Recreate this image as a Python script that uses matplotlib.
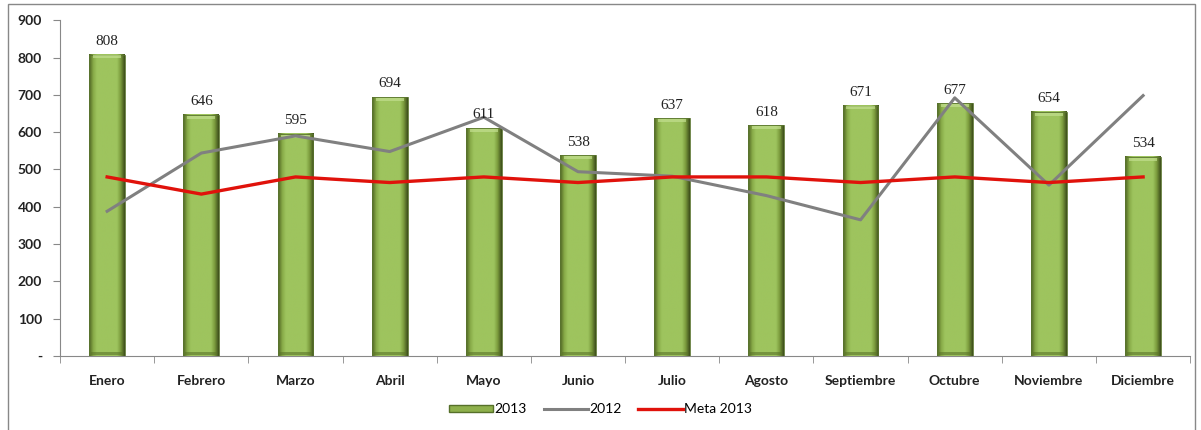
import numpy as np
import matplotlib
matplotlib.use("Agg")
import matplotlib.pyplot as plt
from matplotlib.colors import LinearSegmentedColormap
from matplotlib.patches import Rectangle
from matplotlib.lines import Line2D

months = ["Enero", "Febrero", "Marzo", "Abril", "Mayo", "Junio", "Julio",
          "Agosto", "Septiembre", "Octubre", "Noviembre", "Diciembre"]
values_2013 = [808, 646, 595, 694, 611, 538, 637, 618, 671, 677, 654, 534]
values_2012 = [388, 544, 590, 548, 640, 494, 482, 430, 365, 692, 458, 698]
meta_2013 = [480, 434, 480, 465, 480, 465, 480, 480, 465, 480, 465, 480]

plt.rcParams["font.family"] = ["Lato", "DejaVu Sans"]

fig = plt.figure(figsize=(12.01, 4.30), dpi=100)
ax = fig.add_axes([0.05, 0.172, 0.941, 0.781])

x = np.arange(len(months))
width = 0.38

# bevelled bars: light green face, dark rims at the sides
shade = LinearSegmentedColormap.from_list(
    "shade", [(0.0, "#4d6322"), (0.12, "#88ab48"), (0.22, "#9ec45e"),
              (0.78, "#9ec45e"), (0.88, "#7d9d3e"), (1.0, "#3c4d1a")])
grad = np.linspace(0, 1, 128).reshape(1, -1)
for xi, v in zip(x, values_2013):
    ax.imshow(grad, cmap=shade, aspect="auto", extent=(xi - width / 2, xi + width / 2, 0, v),
              zorder=2, interpolation="bilinear")
    ax.add_patch(Rectangle((xi - width / 2, 0), width, v, fill=False,
                           edgecolor="#5b7530", linewidth=0.6, zorder=3))
    ax.add_patch(Rectangle((xi - width / 2 + 0.04, v - 10), width - 0.08, 8,
                           facecolor="#c3df8f", edgecolor="none", alpha=0.7, zorder=3))
    ax.add_patch(Rectangle((xi - width / 2 + 0.02, 2), width - 0.04, 8,
                           facecolor="#5a7428", edgecolor="none", alpha=0.6, zorder=3))
    ax.text(xi, v + 18, str(v), ha="center", va="bottom", fontsize=11,
            family="Liberation Serif", color="#222222", zorder=5)

ax.plot(x, values_2012, color="#808080", linewidth=2.2, zorder=4)
ax.plot(x, meta_2013, color="#e0120b", linewidth=2.4, zorder=4)

ax.set_xlim(-0.5, len(months) - 0.5)
ax.set_ylim(0, 900)
ax.set_yticks(range(0, 901, 100))
ax.set_yticklabels(["-"] + [str(v) for v in range(100, 901, 100)])
ax.set_xticks(x)
ax.set_xticklabels(months)
ax.set_xticks(np.arange(-0.5, len(months), 1), minor=True)
ax.tick_params(axis="x", which="major", length=0, pad=14)
ax.tick_params(axis="x", which="minor", length=5, direction="out", color="#888888")
ax.tick_params(axis="y", length=5, direction="out", color="#888888", pad=8)
for lab in ax.get_xticklabels() + ax.get_yticklabels():
    lab.set_fontsize(10)
    lab.set_fontweight("bold")
    lab.set_color("#222222")

for side in ["top", "right"]:
    ax.spines[side].set_visible(False)
for side in ["left", "bottom"]:
    ax.spines[side].set_color("#888888")

handles = [
    Rectangle((0, 0), 1, 1, facecolor="#8eb04c", edgecolor="#56702a"),
    Line2D([], [], color="#808080", linewidth=2.2),
    Line2D([], [], color="#e0120b", linewidth=2.4),
]
fig.legend(handles, ["2013", "2012", "Meta 2013"], loc="center", bbox_to_anchor=(0.5, 0.048),
           ncol=3, frameon=False, fontsize=10, handlelength=3.2, handleheight=0.4,
           columnspacing=1.2, handletextpad=0.1)

# outer chart border
fig.add_artist(Rectangle((0.007, -0.01), 0.988, 1.0, transform=fig.transFigure,
                         fill=False, edgecolor="#888888", linewidth=1))

fig.savefig("out.png", dpi=100)
